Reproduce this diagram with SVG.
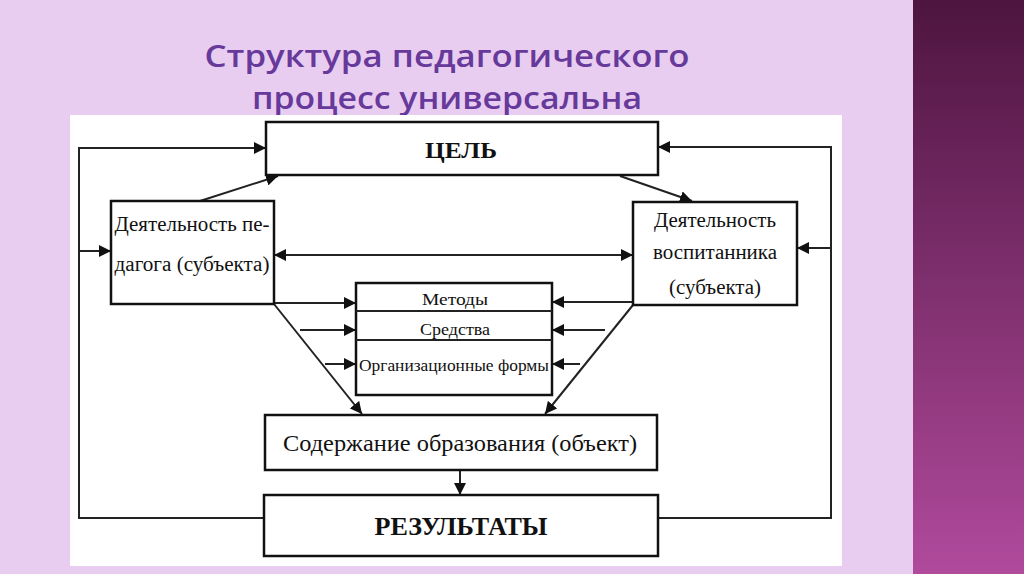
<svg xmlns="http://www.w3.org/2000/svg" width="1024" height="574" viewBox="0 0 1024 574">
<defs>
<linearGradient id="side" x1="0" y1="0" x2="0" y2="1"><stop offset="0" stop-color="#4e1540"/><stop offset="1" stop-color="#b04a9c"/></linearGradient>
<marker id="a" viewBox="0 0 10 10" refX="10" refY="5" markerWidth="12" markerHeight="12" markerUnits="userSpaceOnUse" orient="auto-start-reverse"><path d="M0,0L10,5L0,10z" fill="#111"/></marker>
<style>
.b{fill:#fff;stroke:#111;stroke-width:2.5}
.t{font-family:"Liberation Serif",serif;fill:#111;text-anchor:middle}
.c{fill:none;stroke:#222;stroke-width:2}
.ttl{font-family:"Open Sans","Liberation Sans",sans-serif;font-weight:600;font-size:30px;fill:#66399a;text-anchor:middle}
</style>
</defs>
<rect width="1024" height="574" fill="#e8cdf0"/>
<rect x="913" y="0" width="111" height="574" fill="url(#side)"/>
<text class="ttl" x="447" y="67" textLength="485" lengthAdjust="spacingAndGlyphs">Структура педагогического</text>
<text class="ttl" x="447" y="109" textLength="390" lengthAdjust="spacingAndGlyphs">процесс универсальна</text>
<rect x="70" y="115" width="772" height="451" fill="#fff"/>
<g id="connectors">
<polyline class="c" points="264,518 79,518 79,148 266,148" marker-end="url(#a)"/>
<line class="c" x1="79" y1="251" x2="111" y2="251" marker-end="url(#a)"/>
<polyline class="c" points="658,518 831,518 831,147 658,147" marker-end="url(#a)"/>
<line class="c" x1="831" y1="248" x2="797" y2="248" marker-end="url(#a)"/>
<line class="c" x1="200" y1="201" x2="278" y2="176" marker-end="url(#a)"/>
<line class="c" x1="620" y1="176" x2="692" y2="201" marker-end="url(#a)"/>
<line class="c" x1="274" y1="255" x2="633" y2="255" marker-start="url(#a)" marker-end="url(#a)"/>
<line class="c" x1="274" y1="303" x2="356" y2="303" marker-end="url(#a)"/>
<line class="c" x1="300" y1="330" x2="356" y2="330" marker-end="url(#a)"/>
<line class="c" x1="325" y1="364" x2="356" y2="364" marker-end="url(#a)"/>
<line class="c" x1="633" y1="302" x2="552" y2="302" marker-end="url(#a)"/>
<line class="c" x1="605" y1="330" x2="552" y2="330" marker-end="url(#a)"/>
<line class="c" x1="580" y1="364" x2="552" y2="364" marker-end="url(#a)"/>
<line class="c" x1="274" y1="304" x2="362" y2="414" marker-end="url(#a)"/>
<line class="c" x1="633" y1="305" x2="545" y2="414" marker-end="url(#a)"/>
<line class="c" x1="460" y1="470" x2="460" y2="495" marker-end="url(#a)"/>
</g>
<g id="goal"><rect class="b" x="266" y="122" width="392" height="53"/><text class="t" x="461" y="158" font-size="24" font-weight="bold" textLength="72" lengthAdjust="spacingAndGlyphs">ЦЕЛЬ</text></g>
<g id="teacher"><rect class="b" x="111" y="201" width="163" height="103"/>
<text class="t" x="192" y="231" font-size="20" textLength="155" lengthAdjust="spacingAndGlyphs">Деятельность пе-</text>
<text class="t" x="192" y="271" font-size="20" textLength="155" lengthAdjust="spacingAndGlyphs">дагога (субъекта)</text></g>
<g id="pupil"><rect class="b" x="633" y="202" width="164" height="103"/>
<text class="t" x="715" y="227" font-size="20" textLength="122" lengthAdjust="spacingAndGlyphs">Деятельность</text>
<text class="t" x="715" y="259" font-size="20" textLength="124" lengthAdjust="spacingAndGlyphs">воспитанника</text>
<text class="t" x="715" y="294" font-size="20" textLength="92" lengthAdjust="spacingAndGlyphs">(субъекта)</text></g>
<g id="means"><rect class="b" x="356" y="283" width="196" height="112"/>
<line class="c" x1="356" y1="311" x2="552" y2="311"/><line class="c" x1="356" y1="340" x2="552" y2="340"/>
<text class="t" x="455" y="305" font-size="16" textLength="66" lengthAdjust="spacingAndGlyphs">Методы</text>
<text class="t" x="455" y="335" font-size="16" textLength="70" lengthAdjust="spacingAndGlyphs">Средства</text>
<text class="t" x="454" y="371" font-size="16" textLength="190" lengthAdjust="spacingAndGlyphs">Организационные формы</text></g>
<g id="content"><rect class="b" x="265" y="415" width="392" height="55"/><text class="t" x="460" y="451" font-size="24" textLength="354" lengthAdjust="spacingAndGlyphs">Содержание образования (объект)</text></g>
<g id="results"><rect class="b" x="264" y="495" width="394" height="61"/><text class="t" x="461" y="535" font-size="25" font-weight="bold" textLength="173" lengthAdjust="spacingAndGlyphs">РЕЗУЛЬТАТЫ</text></g>
</svg>
